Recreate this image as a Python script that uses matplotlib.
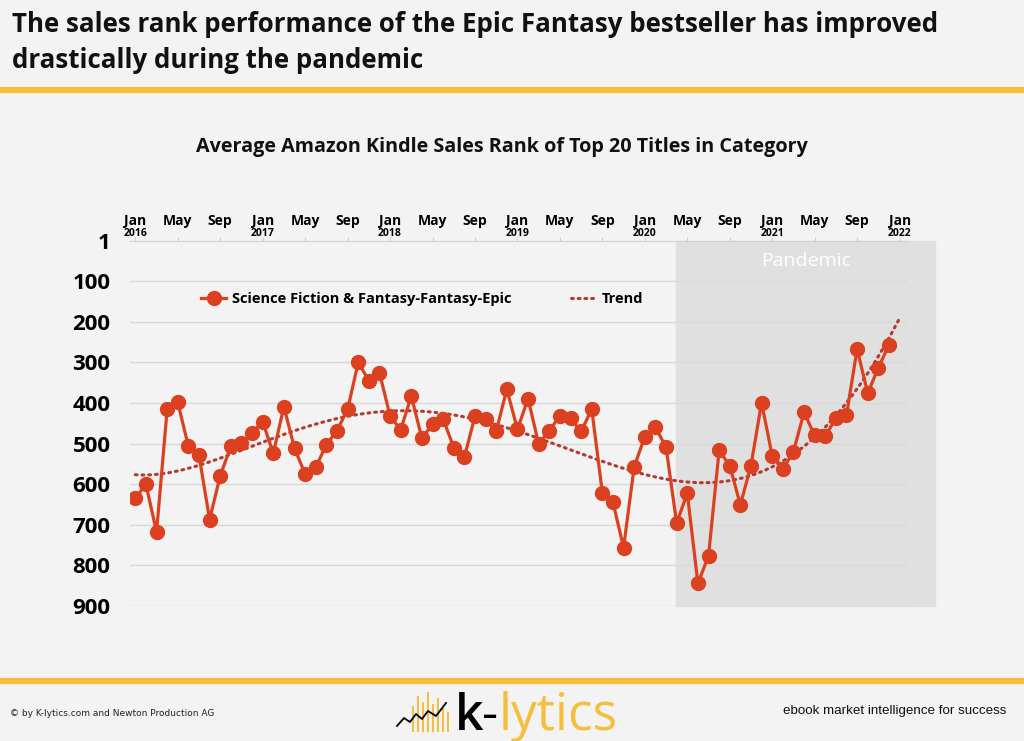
import numpy as np
import pandas as pd
import matplotlib
matplotlib.use('Agg')
import matplotlib.pyplot as plt
import matplotlib.transforms as mtransforms

# average sales rank per month, Jan 2016 - Dec 2021
rank_2016 = [635, 600, 718, 416, 398, 507, 529, 687, 579, 507, 499, 474]
rank_2017 = [446, 524, 409, 512, 575, 558, 503, 468, 416, 300, 345, 325]
rank_2018 = [432, 466, 383, 487, 452, 439, 510, 534, 432, 439, 470, 366]
rank_2019 = [465, 389, 501, 468, 432, 438, 470, 415, 621, 645, 756, 557]
rank_2020 = [483, 460, 509, 696, 622, 844, 777, 517, 554, 651, 554, 399]
rank_2021 = [530, 563, 520, 423, 480, 481, 438, 430, 267, 376, 313, 257]
ranks = rank_2016 + rank_2017 + rank_2018 + rank_2019 + rank_2020 + rank_2021

months = pd.date_range('2016-01-01', periods=len(ranks), freq='MS')
y_ticks = [1, 100, 200, 300, 400, 500, 600, 700, 800, 900]
series_name = 'Science Fiction & Fantasy-Fantasy-Epic'
pandemic_start = '2020-04-01'
trend_order = 5

RED = '#DB4020'
TREND = '#B23A30'
GOLD = '#F5BE3C'
BG = '#F3F3F3'

# polynomial trend, forecast one period forward (like Excel)
x = np.arange(len(ranks))
coef = np.polyfit(x, ranks, trend_order)
x_trend = np.linspace(0, len(ranks), 200)
y_trend = np.polyval(coef, x_trend)

fig = plt.figure(figsize=(10.24, 7.41), dpi=100)
fig.patch.set_facecolor(BG)
W, H = 1024, 741

# header
fig.text(12 / W, 1 - 11 / H, 'The sales rank performance of the Epic Fantasy bestseller has improved\n'
         'drastically during the pandemic', ha='left', va='top', fontsize=18.6,
         fontweight='bold', color='#111111', linespacing=1.42, family='Open Sans')
fig.add_artist(plt.Line2D([0, 1], [1 - 90 / H, 1 - 90 / H], color=GOLD, lw=4.5))
fig.add_artist(plt.Line2D([0, 1], [1 - 681 / H, 1 - 681 / H], color=GOLD, lw=4.5))

fig.text(502 / W, 1 - 147 / H, 'Average Amazon Kindle Sales Rank of Top 20 Titles in Category',
         ha='center', va='center', fontsize=14.2, fontweight='bold', color='#111111', family='Open Sans')

ax = fig.add_axes([130 / W, 1 - 606 / H, (907 - 130) / W, (606 - 241) / H])
ax.set_facecolor(BG)
ax.set_xlim(-0.5, 72.7)
ax.set_ylim(900, 1)

# pandemic shading (runs a little past the plot area)
p0 = months.get_loc(pd.Timestamp(pandemic_start))
ax.axvspan(p0 - 0.05, 75.3, ymin=0, ymax=1, color='#E0E0E0', zorder=0, clip_on=False)
ax.text((p0 + 75.3) / 2, 50, 'Pandemic', color='white', fontsize=14, ha='center', va='center',
        family='Open Sans')

for t in y_ticks[1:]:
    ax.axhline(t, color='#D9D9D9', lw=1, zorder=1)

ax.plot(x, ranks, color=RED, lw=2.3, marker='o', markersize=10, zorder=3, label=series_name)
ax.plot(x_trend, y_trend, color=TREND, lw=2.2, linestyle=(0, (0.6, 1.6)), dash_capstyle='round',
        zorder=2, label='Trend')

ax.set_yticks(y_ticks)
ax.set_yticklabels([str(t) for t in y_ticks], fontsize=16, fontweight='bold', family='Open Sans')
ax.tick_params(axis='y', length=0, pad=14)

ax.xaxis.tick_top()
tick_idx = [i for i, m in enumerate(months) if m.month in (1, 5, 9)] + [len(months)]
ax.set_xticks(tick_idx)
ax.set_xticklabels([])
ax.tick_params(axis='x', length=3, color='#D0D0D0')
trans = mtransforms.blended_transform_factory(ax.transData, ax.transAxes)
all_months = pd.date_range('2016-01-01', periods=len(months) + 1, freq='MS')
for i in tick_idx:
    m = all_months[i]
    ax.text(i, 1 + 20 / 365, m.strftime('%b'), transform=trans, ha='center', va='center',
            fontsize=10, fontweight='bold', family='Open Sans')
    if m.month == 1:
        ax.text(i, 1 + 7 / 365, str(m.year), transform=trans, ha='center', va='center',
                fontsize=7.5, fontweight='bold', family='Open Sans')

for s in ['right', 'bottom', 'left']:
    ax.spines[s].set_visible(False)
ax.spines['top'].set_color('#D0D0D0')

ax.legend(loc='upper left', bbox_to_anchor=(0.075, 0.895), ncol=2, frameon=False,
          prop={'weight': 'bold', 'size': 10.5, 'family': 'Open Sans'},
          columnspacing=4.1, handlelength=1.7, handletextpad=0.4)

# footer
fig.text(10 / W, 1 - 713 / H, '\u00a9 by K-lytics.com and Newton Production AG', fontsize=6.5,
         ha='left', va='center', color='#222222')
fig.text(1006 / W, 1 - 711 / H, 'ebook market intelligence for success', fontsize=9.6,
         ha='right', va='center', color='#111111', family='Liberation Sans')
for k, hgt in enumerate([24, 34, 28, 38, 26, 32, 22, 18]):
    xx = (413 + k * 5) / W
    fig.add_artist(plt.Line2D([xx, xx], [1 - 731 / H, 1 - (731 - hgt) / H], color=GOLD, lw=1.4))
fig.add_artist(plt.Line2D(np.array([397, 404, 410, 416, 422, 428, 436, 446]) / W,
                          1 - np.array([726, 718, 722, 714, 719, 711, 716, 703]) / H,
                          color='black', lw=1.3))
fig.text(455 / W, 1 - 717 / H, 'k', fontsize=36, ha='left', va='center', color='black',
         family='Open Sans', fontweight='semibold')
fig.text(482 / W, 1 - 717 / H, '-', fontsize=36, ha='left', va='center', color='black',
         family='Open Sans')
fig.text(499 / W, 1 - 717 / H, 'lytics', fontsize=37, ha='left', va='center', color=GOLD,
         family='Open Sans')

fig.savefig('out.png', dpi=100, facecolor=BG)
